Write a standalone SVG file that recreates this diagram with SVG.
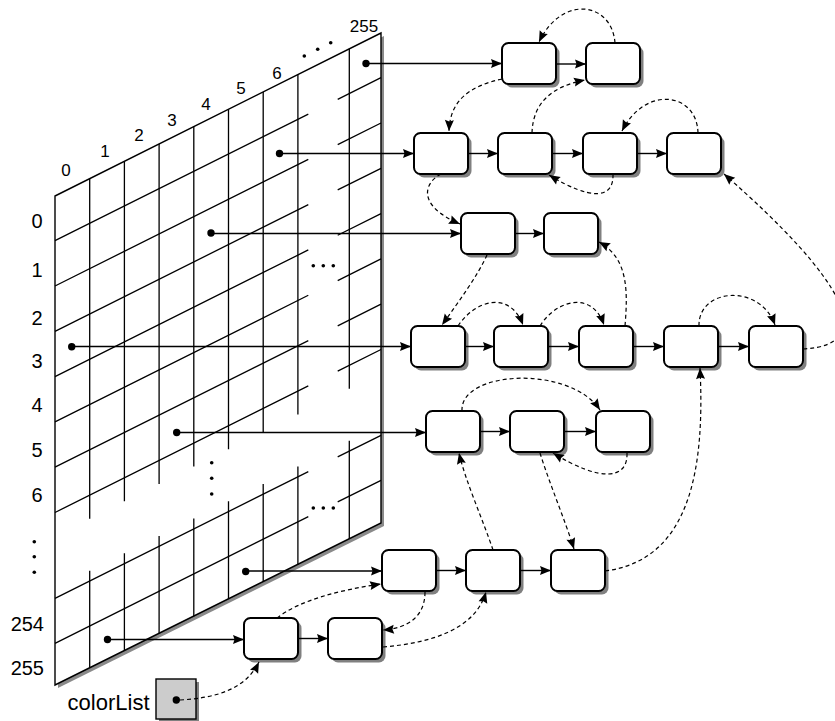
<svg xmlns="http://www.w3.org/2000/svg" width="835" height="721" viewBox="0 0 835 721">
<defs>
<marker id="ah" markerUnits="userSpaceOnUse" markerWidth="12" markerHeight="10" refX="11" refY="4.5" orient="auto" overflow="visible">
<path d="M0,0 L11,4.5 L0,9 L1.5,4.5 z" fill="#000"/>
</marker>
<style>
.grid{stroke:#000;stroke-width:1.3;fill:none}
.frame{fill:#fff;stroke:#000;stroke-width:1.4}
.frameShadow{fill:#8a8a8a}
.box{fill:#fff;stroke:#000;stroke-width:2}
.shadow{fill:#808080}
.ptr{stroke:#000;stroke-width:1.4;fill:none;marker-end:url(#ah)}
.dash{stroke:#000;stroke-width:1.2;fill:none;stroke-dasharray:4 3;marker-end:url(#ah)}
.dot{fill:#000}
.col{font-family:"Liberation Sans",Arial,sans-serif;font-size:17px;text-anchor:middle;fill:#000}
.row{font-family:"Liberation Sans",Arial,sans-serif;font-size:20px;text-anchor:end;fill:#000}
.lbl{font-family:"Liberation Sans",Arial,sans-serif;font-size:22px;text-anchor:end;fill:#000}
</style>
</defs>

<g id="table">
<polygon class="frameShadow" points="58,199 384,36 384,526 58,688"/>
<polygon class="frame" points="55,196 381,33 381,523 55,685"/>
<g class="grid">
<path d="M89.7,178.65V518.65M124.4,161.3V501.3M159.1,143.95V483.95M193.8,126.6V466.6M228.5,109.25V449.25M263.2,91.9V431.9M297.9,74.55V414.55M349.3,48.85V388.85"/>
<path d="M89.7,570.65V667.8M124.4,553.3V650.6M159.1,535.95V633.4M193.8,518.6V616.2M228.5,501.25V599M263.2,483.9V581.8M297.9,466.55V564.6M349.3,440.85V539"/>
<path d="M55,240.7L308.3,114.05M337.7,99.35L381,77.7M55,286L308.3,159.35M337.7,144.65L381,123M55,331.3L308.3,204.65M337.7,189.95L381,168.3M55,376.6L308.3,249.95M337.7,235.25L381,213.6M55,421.9L308.3,295.25M337.7,280.55L381,258.9M55,467.2L308.3,340.55M337.7,325.85L381,304.2M55,512.5L308.3,385.85M337.7,371.15L381,349.5M55,598.3L308.3,471.65M337.7,456.95L381,435.3M55,643.3L308.3,516.65M337.7,501.95L381,480.3"/>
</g>
<g class="dot">
<circle cx="304.3" cy="56" r="1.8"/><circle cx="317.7" cy="49.3" r="1.8"/><circle cx="330.7" cy="42.7" r="1.8"/>
<circle cx="313.3" cy="265.7" r="1.8"/><circle cx="323.3" cy="265.7" r="1.8"/><circle cx="333.3" cy="265.7" r="1.8"/>
<circle cx="313.3" cy="508" r="1.8"/><circle cx="323.3" cy="508" r="1.8"/><circle cx="333.3" cy="508" r="1.8"/>
<circle cx="211.7" cy="462.7" r="1.8"/><circle cx="211.7" cy="478.3" r="1.8"/><circle cx="211.7" cy="494" r="1.8"/>
<circle cx="34.3" cy="541.7" r="1.8"/><circle cx="34.3" cy="556.7" r="1.8"/><circle cx="34.3" cy="572.3" r="1.8"/>
</g>
<text class="col" x="66" y="176">0</text>
<text class="col" x="105" y="157">1</text>
<text class="col" x="139" y="141">2</text>
<text class="col" x="172" y="126">3</text>
<text class="col" x="206" y="110">4</text>
<text class="col" x="241" y="94">5</text>
<text class="col" x="277" y="79">6</text>
<text class="col" x="364" y="32">255</text>
<text class="row" x="42.5" y="228">0</text>
<text class="row" x="42.5" y="277">1</text>
<text class="row" x="42.5" y="325">2</text>
<text class="row" x="42.5" y="368">3</text>
<text class="row" x="42.5" y="412">4</text>
<text class="row" x="42.5" y="457">5</text>
<text class="row" x="42.5" y="502">6</text>
<text class="row" x="44" y="631">254</text>
<text class="row" x="44" y="675">255</text>
</g>

<g id="colorList">
<text class="lbl" x="149.5" y="710">colorList</text>
<rect x="159" y="682" width="40" height="40" fill="#808080"/>
<rect x="156" y="679" width="40" height="40" fill="#cccccc" stroke="#000" stroke-width="1.4"/>
</g>

<g id="nodes">
<g id="A1"><rect class="shadow" x="505.5" y="46.5" width="54" height="41" rx="6.5"/><rect class="box" x="502" y="43" width="54" height="41" rx="6.5"/></g>
<g id="A2"><rect class="shadow" x="589.5" y="46.5" width="54" height="41" rx="6.5"/><rect class="box" x="586" y="43" width="54" height="41" rx="6.5"/></g>
<g id="B1"><rect class="shadow" x="417.5" y="136.5" width="54" height="41" rx="6.5"/><rect class="box" x="414" y="133" width="54" height="41" rx="6.5"/></g>
<g id="B2"><rect class="shadow" x="501.5" y="136.5" width="54" height="41" rx="6.5"/><rect class="box" x="498" y="133" width="54" height="41" rx="6.5"/></g>
<g id="B3"><rect class="shadow" x="586.5" y="136.5" width="54" height="41" rx="6.5"/><rect class="box" x="583" y="133" width="54" height="41" rx="6.5"/></g>
<g id="B4"><rect class="shadow" x="670.5" y="136.5" width="54" height="41" rx="6.5"/><rect class="box" x="667" y="133" width="54" height="41" rx="6.5"/></g>
<g id="C1"><rect class="shadow" x="464.5" y="216.5" width="54" height="41" rx="6.5"/><rect class="box" x="461" y="213" width="54" height="41" rx="6.5"/></g>
<g id="C2"><rect class="shadow" x="547.5" y="216.5" width="54" height="41" rx="6.5"/><rect class="box" x="544" y="213" width="54" height="41" rx="6.5"/></g>
<g id="D1"><rect class="shadow" x="414.5" y="329.5" width="54" height="41" rx="6.5"/><rect class="box" x="411" y="326" width="54" height="41" rx="6.5"/></g>
<g id="D2"><rect class="shadow" x="497.5" y="329.5" width="54" height="41" rx="6.5"/><rect class="box" x="494" y="326" width="54" height="41" rx="6.5"/></g>
<g id="D3"><rect class="shadow" x="582.5" y="329.5" width="54" height="41" rx="6.5"/><rect class="box" x="579" y="326" width="54" height="41" rx="6.5"/></g>
<g id="D4"><rect class="shadow" x="667.5" y="329.5" width="54" height="41" rx="6.5"/><rect class="box" x="664" y="326" width="54" height="41" rx="6.5"/></g>
<g id="D5"><rect class="shadow" x="752.5" y="329.5" width="54" height="41" rx="6.5"/><rect class="box" x="749" y="326" width="54" height="41" rx="6.5"/></g>
<g id="E1"><rect class="shadow" x="429.5" y="414.5" width="54" height="41" rx="6.5"/><rect class="box" x="426" y="411" width="54" height="41" rx="6.5"/></g>
<g id="E2"><rect class="shadow" x="513.5" y="414.5" width="54" height="41" rx="6.5"/><rect class="box" x="510" y="411" width="54" height="41" rx="6.5"/></g>
<g id="E3"><rect class="shadow" x="599.5" y="414.5" width="54" height="41" rx="6.5"/><rect class="box" x="596" y="411" width="54" height="41" rx="6.5"/></g>
<g id="F1"><rect class="shadow" x="385.5" y="553.5" width="54" height="41" rx="6.5"/><rect class="box" x="382" y="550" width="54" height="41" rx="6.5"/></g>
<g id="F2"><rect class="shadow" x="469.5" y="553.5" width="54" height="41" rx="6.5"/><rect class="box" x="466" y="550" width="54" height="41" rx="6.5"/></g>
<g id="F3"><rect class="shadow" x="554.5" y="553.5" width="54" height="41" rx="6.5"/><rect class="box" x="551" y="550" width="54" height="41" rx="6.5"/></g>
<g id="G1"><rect class="shadow" x="247.5" y="621.5" width="54" height="41" rx="6.5"/><rect class="box" x="244" y="618" width="54" height="41" rx="6.5"/></g>
<g id="G2"><rect class="shadow" x="331.5" y="621.5" width="54" height="41" rx="6.5"/><rect class="box" x="328" y="618" width="54" height="41" rx="6.5"/></g>
</g>

<g id="connectors">
<g class="dot">
<circle cx="366" cy="63.5" r="3.7"/>
<circle cx="279.5" cy="153.5" r="3.7"/>
<circle cx="211" cy="233" r="3.7"/>
<circle cx="71.7" cy="346.7" r="3.7"/>
<circle cx="176.7" cy="432.5" r="3.7"/>
<circle cx="245.7" cy="571.5" r="3.7"/>
<circle cx="107.5" cy="639.5" r="3.7"/>
<circle cx="176.3" cy="700" r="3.7"/>
</g>
<path class="ptr" d="M366,63.5H502"/>
<path class="ptr" d="M279.5,153.5H414"/>
<path class="ptr" d="M211,233.5H461"/>
<path class="ptr" d="M71.7,346.5H411"/>
<path class="ptr" d="M176.7,432.5H426"/>
<path class="ptr" d="M245.7,571H382"/>
<path class="ptr" d="M107.5,639.5H244"/>

<path class="ptr" d="M556,64H586"/>
<path class="ptr" d="M468,153.5H498"/>
<path class="ptr" d="M552,153.5H583"/>
<path class="ptr" d="M637,153.5H667"/>
<path class="ptr" d="M515,233.5H544"/>
<path class="ptr" d="M465,346.5H494"/>
<path class="ptr" d="M548,346.5H579"/>
<path class="ptr" d="M633,346.5H664"/>
<path class="ptr" d="M718,346.5H749"/>
<path class="ptr" d="M480,431.5H510"/>
<path class="ptr" d="M564,431.5H596"/>
<path class="ptr" d="M436,570.5H466"/>
<path class="ptr" d="M520,570.5H551"/>
<path class="ptr" d="M298,638.5H328"/>

<path class="dash" d="M615,43C612,2 562,-6 539,42"/>
<path class="dash" d="M502,79C470,86 450,100 449,131"/>
<path class="dash" d="M532,133C533,100 555,86 585,80"/>
<path class="dash" d="M698,133C697,92 645,85 622,131"/>
<path class="dash" d="M613,174C614,200 590,200 549,175"/>
<path class="dash" d="M441,174C425,182 415,205 460,224"/>
<path class="dash" d="M803,349C880,345 845,280 724,174"/>
<path class="dash" d="M487,255C478,275 460,300 442,325"/>
<path class="dash" d="M625,326C628,290 628,258 599,242"/>
<path class="dash" d="M458,326C475,300 510,290 523,325"/>
<path class="dash" d="M540,326C556,300 592,290 604,325"/>
<path class="dash" d="M699,326C698,288 760,283 775,325"/>
<path class="dash" d="M605,571C690,560 705,470 700,368"/>
<path class="dash" d="M462,411C460,370 570,365 600,410"/>
<path class="dash" d="M627,453C628,480 600,482 553,453"/>
<path class="dash" d="M493,550C483,520 465,480 459,453"/>
<path class="dash" d="M540,453C550,485 565,520 574,549"/>
<path class="dash" d="M277,618C300,600 340,590 381,584"/>
<path class="dash" d="M425,592C425,615 410,628 383,630"/>
<path class="dash" d="M383,647C430,643 475,630 486,592"/>
<path class="dash" d="M180,700C215,698 245,690 259,662"/>
</g>
</svg>
